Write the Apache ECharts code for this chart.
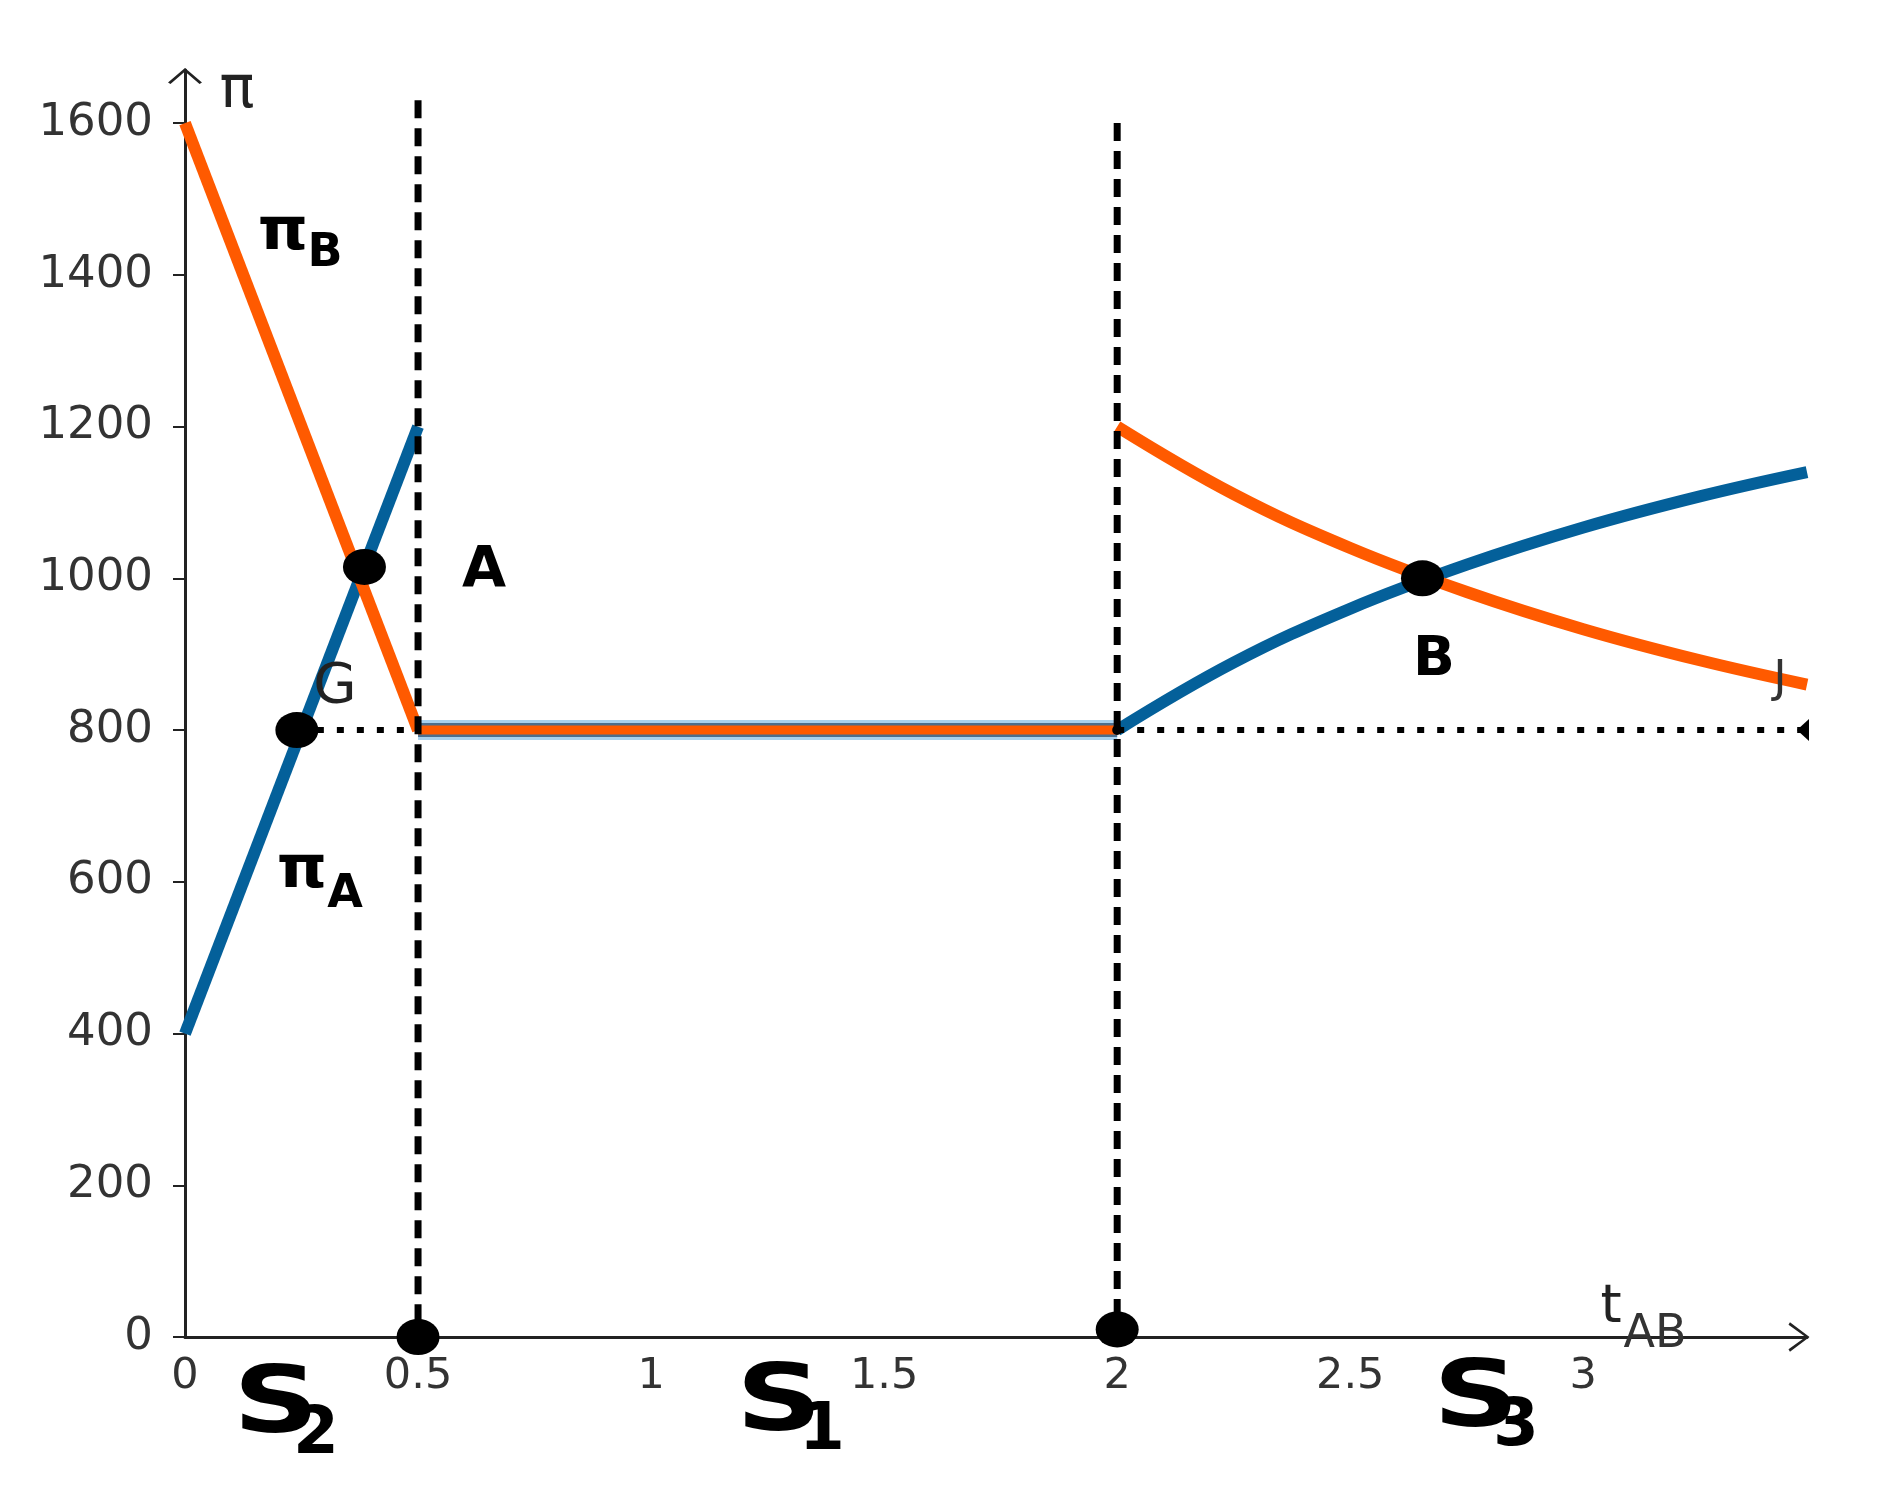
<!DOCTYPE html>
<html>
<head>
<meta charset="utf-8">
<script src="https://cdn.jsdelivr.net/npm/echarts@6/dist/echarts.min.js"></script>
<style>
  html, body { margin: 0; background: #fff; }
  #chart { width: 1877px; height: 1490px; }
</style>
</head>
<body>
<div id="chart"></div>
<script>
// values
const leftT = [0, 0.5];
const leftA = [400, 1200];
const leftB = [1600, 800];
const flatT = [0.5, 2];
const flatPi = [800, 800];
const rightT = [2, 2.25, 2.5, 2.75, 3, 3.25, 3.48];
const rightA = [800, 889, 960, 1018, 1067, 1108, 1140];
const rightB = [1200, 1111, 1040, 982, 933, 892, 860];
const vlineX = [0.5, 2];
const vlineTop = [1630, 1600];
const dotLeft = [0.24, 0.5];      // dotted 800 line, left part
const dotRight = [2, 3.48];       // dotted 800 line, right part
const level = 800;
const eqX = [0.24, 0.385, 0.5, 2, 2.655];
const eqY = [800, 1015, 0, 10, 1000];
const xTickLabels = ['0', '0.5', '1', '1.5', '2', '2.5', '3'];
const yTickLabels = ['0', '200', '400', '600', '800', '1000', '1200', '1400', '1600'];

const zip = (xs, ys) => xs.map((x, i) => [x, ys[i]]);

const ORANGE = '#ff5a00';
const BLUE = '#04609a';
const FONT = '"DejaVu Sans", Verdana, sans-serif';

function line (data, color, width, z, extra) {
  return Object.assign({
    type: 'line',
    data: data,
    symbol: 'none',
    z: z,
    silent: true,
    animation: false,
    lineStyle: {color: color, width: width, cap: 'butt'}
  }, extra || {})
}

function txt (s, x, y, size, bold, color, sx) {
  return {
    type: 'text',
    x: x,
    y: y,
    scaleX: sx || 1,
    z: 100,
    style: {
      text: s,
      font: (bold ? 'bold ' : '') + size + 'px ' + FONT,
      fill: color || '#000',
      align: 'center',
      verticalAlign: 'middle',
      textAlign: 'center',
      textVerticalAlign: 'middle'
    }
  }
}

const series = [
  line(zip(leftT, leftA), BLUE, 12, 3),
  line(zip(leftT, leftB), ORANGE, 12, 3),
  // flat part: blue under orange
  line(zip(flatT, flatPi), '#a9d1ee', 20, 3),
  line(zip(flatT, flatPi), '#4d6f8e', 14, 3),
  line(zip(flatT, flatPi), ORANGE, 9, 3),
  line(zip(rightT, rightA), BLUE, 12, 3, {smooth: 0.4}),
  line(zip(rightT, rightB), ORANGE, 12, 3, {smooth: 0.4})
]

vlineX.forEach((x, i) => {
  series.push(line([[x, vlineTop[i]], [x, 0]], '#000', 7, 5, {
    lineStyle: {color: '#000', width: 7, type: [18, 10]}
  }))
})
series.push(line(zip(dotLeft, [level, level]), '#000', 6, 5, {
  lineStyle: {color: '#000', width: 6, type: [7, 13]}
}))
series.push(line(zip(dotRight, [level, level]), '#000', 6, 5, {
  lineStyle: {color: '#000', width: 6, type: [7, 13]}
}))

series.push({
  type: 'scatter',
  data: zip(eqX, eqY),
  symbol: 'circle',
  symbolSize: [43, 36],
  itemStyle: {color: '#000', opacity: 1},
  z: 10,
  silent: true,
  animation: false
})
series.push({
  type: 'scatter',
  data: [[dotRight[1], level]],
  symbol: 'path://M10,0 L0,10 L10,20 Z',
  symbolSize: [12, 22],
  symbolOffset: [-4, 0],
  itemStyle: {color: '#000', opacity: 1},
  z: 10,
  silent: true,
  animation: false
})
series.push({
  type: 'scatter',
  data: [[dotRight[0], level]],
  symbol: 'circle',
  symbolSize: 10,
  itemStyle: {color: '#000', opacity: 1},
  z: 10,
  silent: true,
  animation: false
})

const option = {
  backgroundColor: '#fff',
  animation: false,
  grid: {left: 185, right: 70, top: 70, bottom: 153, outerBoundsMode: 'none'},
  xAxis: {
    type: 'value',
    min: 0,
    max: 3.48,
    interval: 0.5,
    splitLine: {show: false},
    axisTick: {show: false},
    axisLine: {
      onZero: false,
      lineStyle: {color: '#222', width: 3},
      symbol: ['none', 'path://M0,20 L15,0 L30,20 L27.5,21.5 L15,4 L2.5,21.5 Z'],
      symbolSize: [30, 21],
      symbolOffset: [0, -8]
    },
    axisLabel: {
      showMaxLabel: false,
      margin: 18,
      color: '#333',
      fontSize: 43,
      fontFamily: FONT,
      formatter: (v) => xTickLabels[Math.round(v * 2)] || ''
    }
  },
  yAxis: {
    type: 'value',
    min: 0,
    max: 1670,
    interval: 200,
    splitLine: {show: false},
    axisTick: {show: true, length: 12, lineStyle: {color: '#222', width: 2}},
    axisLine: {
      onZero: false,
      lineStyle: {color: '#222', width: 3},
      symbol: ['none', 'path://M0,15 L17.5,0 L35,15 L32.5,16.5 L17.5,3.5 L2.5,16.5 Z'],
      symbolSize: [35, 16],
      symbolOffset: [0, -6]
    },
    axisLabel: {
      showMaxLabel: false,
      margin: 32,
      color: '#333',
      fontSize: 45,
      fontFamily: FONT,
      formatter: (v) => yTickLabels[Math.round(v / 200)] || ''
    }
  },
  graphic: [
    txt('π', 237, 92, 58, false, '#222'),
    txt('π', 283, 234, 58, true, '#000', 1.1),
    txt('B', 325, 254, 46, true),
    txt('π', 302, 872, 58, true, '#000', 1.1),
    txt('A', 345, 895, 46, true),
    txt('G', 335, 687, 56, false, '#222'),
    txt('A', 484, 572, 57, true),
    txt('B', 1434, 661, 55, true),
    txt('J', 1780, 681, 44, false, '#333'),
    txt('S', 276, 1408, 92, true, '#000', 1.3),
    txt('2', 316, 1436, 66, true),
    txt('S', 779, 1406, 92, true, '#000', 1.3),
    txt('1', 822, 1432, 66, true),
    txt('S', 1476, 1402, 92, true, '#000', 1.3),
    txt('3', 1516, 1428, 66, true),
    txt('t', 1611, 1308, 54, false, '#222'),
    txt('AB', 1655, 1335, 46, false, '#333')
  ],
  series: series
}

const chart = echarts.init(document.getElementById('chart'))
chart.setOption(option)
</script>
</body>
</html>
